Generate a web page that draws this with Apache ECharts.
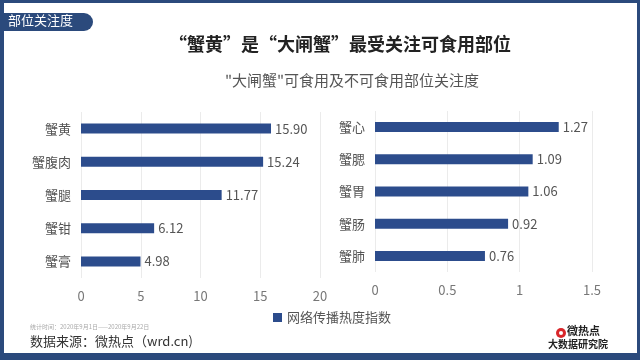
<!DOCTYPE html>
<html><head><meta charset="utf-8">
<script src="https://cdn.jsdelivr.net/npm/echarts@6/dist/echarts.min.js"></script>
<style>html,body{margin:0;padding:0;background:#fff}#c{width:640px;height:360px}</style>
</head><body><div id="c"></div>
<script>
const leftCats = ['蟹黄','蟹腹肉','蟹腿','蟹钳','蟹膏'];
const leftVals = [15.90, 15.24, 11.77, 6.12, 4.98];
const rightCats = ['蟹心','蟹腮','蟹胃','蟹肠','蟹肺'];
const rightVals = [1.27, 1.09, 1.06, 0.92, 0.76];
const seriesName = '网络传播热度指数';
const mainTitle = '“蟹黄”是“大闸蟹”最受关注可食用部位';
const subTitle = '"大闸蟹"可食用及不可食用部位关注度';
const tabText = '部位关注度';
const noteText = '统计时间：2020年9月1日——2020年9月22日';
const sourceText = '数据来源：微热点（wrd.cn)';

const FONT = '"Noto Sans CJK SC", "Noto Sans", sans-serif';
const BAR = '#2c4c8c';
const NAVY = '#2b4a7c';
const chart = echarts.init(document.getElementById('c'));
const catAxis = (cats) => ({
  type: 'category', data: cats, inverse: true,
  axisLine: {show: false}, axisTick: {show: false},
  axisLabel: {color: '#555', fontSize: 13, fontFamily: FONT, margin: 10}
});
const valAxis = (max, interval) => ({
  type: 'value', min: 0, max: max, interval: interval,
  axisLine: {show: false}, axisTick: {show: false},
  axisLabel: {color: '#777', fontSize: 13, fontFamily: FONT, margin: 12},
  splitLine: {show: true, lineStyle: {color: '#ebebeb', width: 1}}
});
const barSeries = (vals, xi) => ({
  name: seriesName, type: 'bar', xAxisIndex: xi, yAxisIndex: xi, data: vals,
  barWidth: 10, itemStyle: {color: BAR},
  label: {show: true, position: 'right', color: '#555', fontSize: 13, fontFamily: FONT,
    formatter: p => p.value.toFixed(2), distance: 4}
});
chart.setOption({
  animation: false,
  backgroundColor: '#fff',
  title: [
    {text: mainTitle, left: 335, top: 30, textAlign: 'center',
     textStyle: {fontSize: 18, fontWeight: 'bold', color: '#222', fontFamily: FONT}},
    {text: subTitle, left: 347, top: 68, textAlign: 'center',
     textStyle: {fontSize: 15, fontWeight: 'normal', color: '#555', fontFamily: FONT}}
  ],
  legend: {data: [seriesName], left: 268, top: 306, icon: 'rect', itemWidth: 9, itemHeight: 9, itemGap: 5,
    textStyle: {fontSize: 13, color: '#555', fontFamily: FONT}},
  grid: [
    {left: 81, width: 239, top: 112, height: 166, containLabel: false},
    {left: 375, width: 217, top: 111, height: 161, containLabel: false}
  ],
  xAxis: [ Object.assign(valAxis(20, 5), {gridIndex: 0}), Object.assign(valAxis(1.5, 0.5), {gridIndex: 1}) ],
  yAxis: [ Object.assign(catAxis(leftCats), {gridIndex: 0}), Object.assign(catAxis(rightCats), {gridIndex: 1}) ],
  series: [ barSeries(leftVals, 0), barSeries(rightVals, 1) ],
  graphic: [
    {type: 'rect', shape: {x: 0, y: 0, width: 640, height: 3}, style: {fill: NAVY}},
    {type: 'rect', shape: {x: 0, y: 0, width: 4, height: 360}, style: {fill: NAVY}},
    {type: 'rect', shape: {x: 637, y: 0, width: 3, height: 360}, style: {fill: NAVY}},
    {type: 'rect', shape: {x: 0, y: 353, width: 640, height: 7}, style: {fill: NAVY}},
    {type: 'rect', shape: {x: 0, y: 13, width: 93, height: 18, r: [0, 9, 9, 0]}, style: {fill: NAVY}},
    {type: 'text', left: 8, top: 14, style: {text: tabText, fill: '#fff', fontSize: 13, fontFamily: FONT}},
    {type: 'text', left: 30, top: 324, style: {text: noteText, fill: '#aaa', fontSize: 6, fontFamily: FONT}},
    {type: 'text', left: 30, top: 335, style: {text: sourceText, fill: '#333', fontSize: 13, fontFamily: FONT}},
    {type: 'circle', shape: {cx: 561, cy: 333, r: 5}, style: {fill: '#d9262a'}},
    {type: 'circle', shape: {cx: 561, cy: 333, r: 2}, style: {fill: '#fff'}},
    {type: 'text', left: 567, top: 325, style: {text: '微热点', fill: '#222', fontSize: 11, fontWeight: 'bold', fontFamily: FONT}},
    {type: 'text', left: 548, top: 339, style: {text: '大数据研究院', fill: '#222', fontSize: 10, fontWeight: 'bold', fontFamily: FONT}}
  ]
});
</script></body></html>
